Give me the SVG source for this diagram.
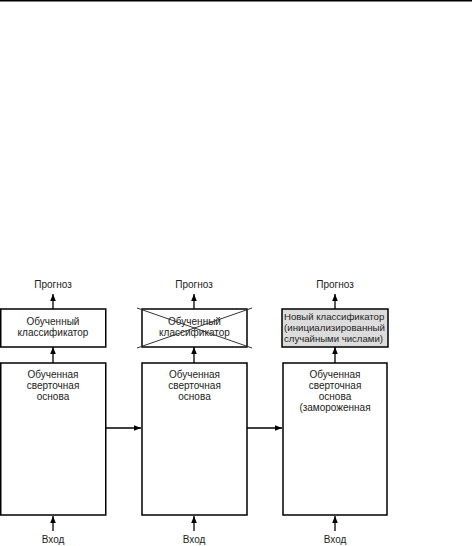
<svg xmlns="http://www.w3.org/2000/svg" width="472" height="546" viewBox="0 0 472 546">
<style>
.box{fill:#fff;stroke:#000;stroke-width:1.5}
.gbox{fill:#dcdcdc;stroke:#000;stroke-width:1.5}
.t{font-family:"Liberation Sans",Arial,sans-serif;font-size:10px;fill:#222;text-anchor:middle}
.tl{font-family:"Liberation Sans",Arial,sans-serif;font-size:9.6px;fill:#222}
.ln{stroke:#000;stroke-width:1.3;fill:none}
.x{stroke:#333;stroke-width:1;fill:none}
</style>
<defs>
<marker id="ah" markerWidth="8" markerHeight="8" refX="7" refY="4" orient="auto" markerUnits="userSpaceOnUse">
<path d="M0,1.2 L7,4 L0,6.8 Z" fill="#000"/>
</marker>
</defs>
<rect x="0" y="0" width="472" height="1.5" fill="#000"/>
<g id="connectors">
<line class="ln" x1="53" y1="309" x2="53" y2="294" marker-end="url(#ah)"/>
<line class="ln" x1="194" y1="309" x2="194" y2="294" marker-end="url(#ah)"/>
<line class="ln" x1="335" y1="309" x2="335" y2="294" marker-end="url(#ah)"/>
<line class="ln" x1="53" y1="363" x2="53" y2="347" marker-end="url(#ah)"/>
<line class="ln" x1="194" y1="363" x2="194" y2="347" marker-end="url(#ah)"/>
<line class="ln" x1="335" y1="363" x2="335" y2="347" marker-end="url(#ah)"/>
<line class="ln" x1="106" y1="428" x2="141" y2="428" marker-end="url(#ah)"/>
<line class="ln" x1="247" y1="428" x2="282" y2="428" marker-end="url(#ah)"/>
<line class="ln" x1="53" y1="531" x2="53" y2="516" marker-end="url(#ah)"/>
<line class="ln" x1="194" y1="531" x2="194" y2="516" marker-end="url(#ah)"/>
<line class="ln" x1="335" y1="531" x2="335" y2="516" marker-end="url(#ah)"/>
</g>
<g id="out1"><text class="t" x="53" y="288">Прогноз</text></g>
<g id="out2"><text class="t" x="194" y="288">Прогноз</text></g>
<g id="out3"><text class="t" x="335" y="288">Прогноз</text></g>
<g id="cls1">
<rect class="box" x="0.75" y="309" width="105" height="38"/>
<text class="t" x="53" y="325">Обученный</text>
<text class="t" x="53" y="336">классификатор</text>
</g>
<g id="cls2">
<rect class="box" x="142" y="309" width="105" height="38"/>
<text class="t" x="194.5" y="325">Обученный</text>
<text class="t" x="194.5" y="336">классификатор</text>
<line class="x" x1="137" y1="308" x2="252" y2="348"/>
<line class="x" x1="137" y1="348" x2="252" y2="308"/>
</g>
<g id="cls3">
<rect class="gbox" x="282" y="309" width="106" height="38"/>
<text class="tl" x="284" y="320">Новый классификатор</text>
<text class="tl" x="284" y="331" textLength="101" lengthAdjust="spacingAndGlyphs">(инициализированный</text>
<text class="tl" x="284" y="342">случайными числами)</text>
</g>
<g id="base1">
<rect class="box" x="0.75" y="363" width="105" height="152"/>
<text class="t" x="53" y="378">Обученная</text>
<text class="t" x="53" y="389">сверточная</text>
<text class="t" x="53" y="400">основа</text>
</g>
<g id="base2">
<rect class="box" x="142" y="363" width="105" height="152"/>
<text class="t" x="194.5" y="378">Обученная</text>
<text class="t" x="194.5" y="389">сверточная</text>
<text class="t" x="194.5" y="400">основа</text>
</g>
<g id="base3">
<rect class="box" x="283" y="363" width="104" height="152"/>
<text class="t" x="335" y="378">Обученная</text>
<text class="t" x="335" y="389">сверточная</text>
<text class="t" x="335" y="400">основа</text>
<text class="t" x="335" y="411">(замороженная</text>
</g>
<g id="in1"><text class="t" x="53" y="543">Вход</text></g>
<g id="in2"><text class="t" x="194" y="543">Вход</text></g>
<g id="in3"><text class="t" x="335" y="543">Вход</text></g>
</svg>
